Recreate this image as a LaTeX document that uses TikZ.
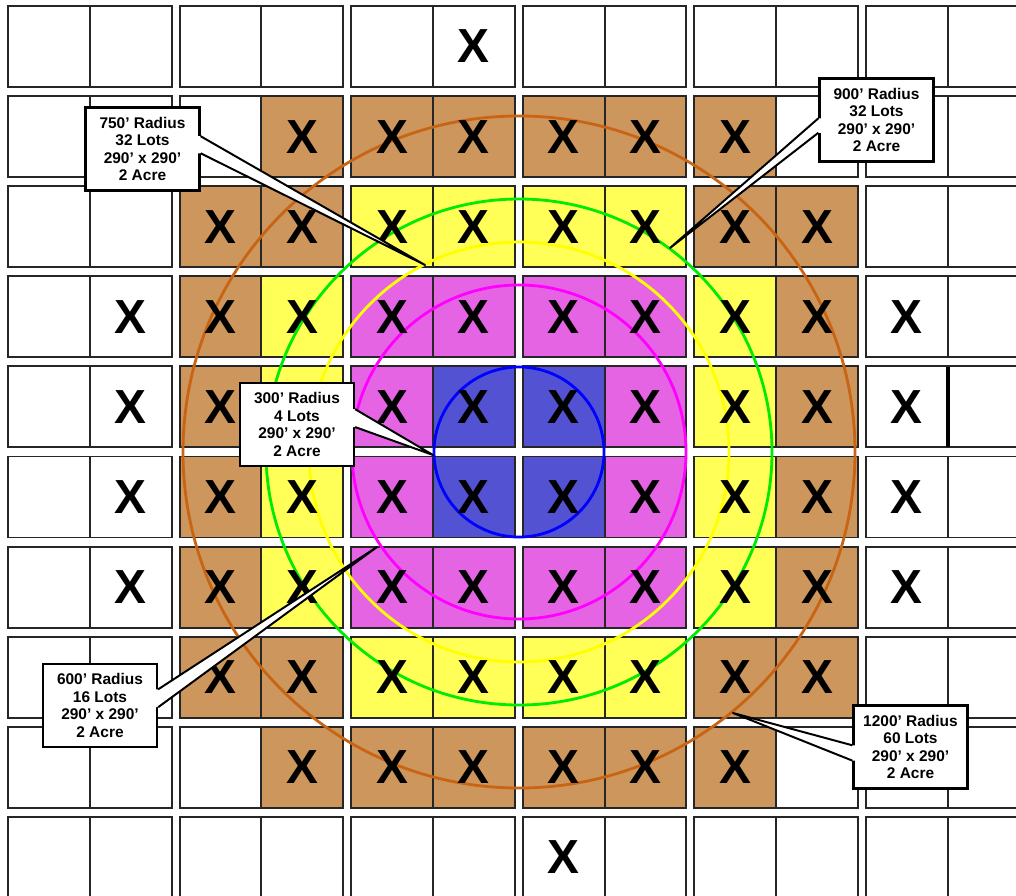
\documentclass[tikz,border=0pt]{standalone}
\usepackage{fontspec}
\setmainfont{Liberation Sans}
\usetikzlibrary{calc}
\definecolor{lotbrown}{RGB}{205,150,92}
\definecolor{lotyellow}{RGB}{255,255,88}
\definecolor{lotpink}{RGB}{228,100,228}
\definecolor{lotblue}{RGB}{82,82,210}
\definecolor{ringbrown}{RGB}{200,100,20}
\definecolor{ringgreen}{RGB}{0,235,0}
\definecolor{ringyellow}{RGB}{255,255,0}
\definecolor{ringpink}{RGB}{255,0,255}
\definecolor{ringblue}{RGB}{0,0,255}

% one lot: path options, column, row
\newcommand{\drawlot}[3]{%
  \pgfmathsetmacro{\lx}{8+171.6*int((#2-1)/2)+81.8*mod(#2-1,2)}%
  \pgfmathsetmacro{\ly}{6+90.1*(#3-1)}%
  \path[#1] (\lx,\ly) rectangle ++(81.8,81);}
% one X mark: column, row
\newcommand{\markX}[2]{%
  \pgfmathsetmacro{\lx}{48.9+171.6*int((#1-1)/2)+81.8*mod(#1-1,2)}%
  \pgfmathsetmacro{\ly}{46.5+90.1*(#2-1)}%
  \node[xmark] (x-#1-#2) at (\lx,\ly) {X};}

\begin{document}
\begin{tikzpicture}[x=0.025cm, y=-0.025cm,
  lot/.style={draw=black!85, line width=1.3pt},
  xmark/.style={font=\fontsize{34}{34}\selectfont\bfseries, inner sep=0pt},
  ring/.style={line width=2pt},
  callout/.style={rectangle, draw=black, fill=white, line width=1.6pt,
                  minimum width=2.85cm, minimum height=2.07cm, inner sep=1pt,
                  align=center, font=\fontsize{11}{12.5}\selectfont\bfseries},
  wedge/.style={draw=black, line width=1.4pt, line join=round},
  gapfill/.style={fill=white},
]
\clip (0,0) rectangle (1016,895);
\fill[white] (0,0) rectangle (1016,895);

% 1200' ring lots
\foreach \c/\r in {4/2,5/2,6/2,7/2,8/2,9/2, 3/3,4/3,9/3,10/3,
                   3/4,10/4,3/5,10/5,3/6,10/6,3/7,10/7,
                   3/8,4/8,9/8,10/8, 4/9,5/9,6/9,7/9,8/9,9/9}
  {\drawlot{fill=lotbrown}{\c}{\r}}
% 750'/900' ring lots
\foreach \c/\r in {5/3,6/3,7/3,8/3, 4/4,9/4,4/5,9/5,4/6,9/6,4/7,9/7,
                   5/8,6/8,7/8,8/8}
  {\drawlot{fill=lotyellow}{\c}{\r}}
% 600' ring lots
\foreach \c/\r in {5/4,6/4,7/4,8/4, 5/5,8/5,5/6,8/6, 5/7,6/7,7/7,8/7}
  {\drawlot{fill=lotpink}{\c}{\r}}
% 300' lots
\foreach \c/\r in {6/5,7/5,6/6,7/6}
  {\drawlot{fill=lotblue}{\c}{\r}}

% lot outlines
\foreach \r in {1,...,10}
  \foreach \c in {1,...,12} {\drawlot{lot}{\c}{\r}}

\draw[line width=2.2pt] (948,367) -- (948,447);

% radius rings
\coordinate (ctr) at (519,452);
\draw[ring, ringbrown]  (ctr) circle[radius=336];
\draw[ring, ringgreen]  (ctr) circle[radius=253];
\draw[ring, ringyellow] (ctr) circle[radius=210];
\draw[ring, ringpink]   (ctr) circle[radius=167];
\draw[ring, ringblue]   (ctr) circle[radius=85];

% marked lots
\foreach \c/\r in {6/1, 4/2,5/2,6/2,7/2,8/2,9/2,
                   3/3,4/3,5/3,6/3,7/3,8/3,9/3,10/3,
                   2/4,3/4,4/4,5/4,6/4,7/4,8/4,9/4,10/4,11/4,
                   2/5,3/5,5/5,6/5,7/5,8/5,9/5,10/5,11/5,
                   2/6,3/6,4/6,5/6,6/6,7/6,8/6,9/6,10/6,11/6,
                   2/7,3/7,4/7,5/7,6/7,7/7,8/7,9/7,10/7,11/7,
                   3/8,4/8,5/8,6/8,7/8,8/8,9/8,10/8,
                   4/9,5/9,6/9,7/9,8/9,9/9, 7/10}
  {\markX{\c}{\r}}

% callouts
\node[callout] (c750)  at (142.5,149)  {750' Radius\\32 Lots\\290' x 290'\\2 Acre};
\node[callout] (c900)  at (876.5,120)  {900' Radius\\32 Lots\\290' x 290'\\2 Acre};
\node[callout] (c300)  at (297,424.5)  {300' Radius\\4 Lots\\290' x 290'\\2 Acre};
\node[callout] (c600)  at (100,705.5)  {600' Radius\\16 Lots\\290' x 290'\\2 Acre};
\node[callout] (c1200) at (910.5,747)  {1200' Radius\\60 Lots\\290' x 290'\\2 Acre};

\coordinate (t750)  at (425,265);
\coordinate (t900)  at (670,248);
\coordinate (t300)  at (433,455);
\coordinate (t600)  at (377,547);
\coordinate (t1200) at (733,713);

% pointers, east side
\coordinate (a750) at ($(c750.north east)!0.35!(c750.south east)$);
\coordinate (b750) at ($(c750.north east)!0.55!(c750.south east)$);
\fill[gapfill] ($(a750)+(-3,0)$) -- (a750) -- (t750) -- (b750) -- ($(b750)+(-3,0)$) -- cycle;
\draw[wedge] (a750) -- (t750) -- (b750);

\coordinate (a300) at ($(c300.north east)!0.32!(c300.south east)$);
\coordinate (b300) at ($(c300.north east)!0.53!(c300.south east)$);
\fill[gapfill] ($(a300)+(-3,0)$) -- (a300) -- (t300) -- (b300) -- ($(b300)+(-3,0)$) -- cycle;
\draw[wedge] (a300) -- (t300) -- (b300);

\coordinate (a600) at ($(c600.north east)!0.31!(c600.south east)$);
\coordinate (b600) at ($(c600.north east)!0.52!(c600.south east)$);
\fill[gapfill] ($(a600)+(-3,0)$) -- (a600) -- (t600) -- (b600) -- ($(b600)+(-3,0)$) -- cycle;
\draw[wedge] (a600) -- (t600) -- (b600);

% pointers, west side
\coordinate (a900) at ($(c900.north west)!0.48!(c900.south west)$);
\coordinate (b900) at ($(c900.north west)!0.65!(c900.south west)$);
\fill[gapfill] ($(a900)+(3,0)$) -- (a900) -- (t900) -- (b900) -- ($(b900)+(3,0)$) -- cycle;
\draw[wedge] (a900) -- (t900) -- (b900);

\coordinate (a1200) at ($(c1200.north west)!0.48!(c1200.south west)$);
\coordinate (b1200) at ($(c1200.north west)!0.66!(c1200.south west)$);
\fill[gapfill] ($(a1200)+(3,0)$) -- (a1200) -- (t1200) -- (b1200) -- ($(b1200)+(3,0)$) -- cycle;
\draw[wedge] (a1200) -- (t1200) -- (b1200);

\end{tikzpicture}
\end{document}
